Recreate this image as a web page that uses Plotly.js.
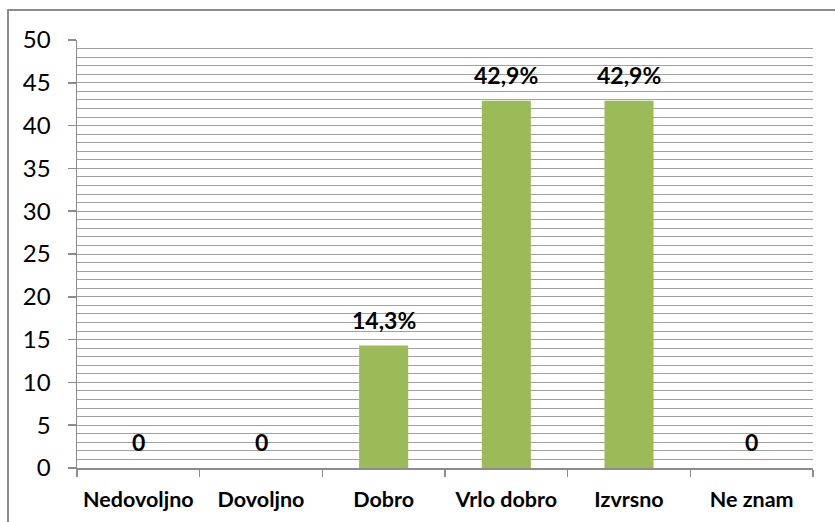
<!DOCTYPE html>
<html>
<head>
<meta charset="utf-8">
<script src="https://cdn.plot.ly/plotly-3.0.1.min.js"></script>
<style>
html,body{margin:0;padding:0;background:#fff;}
#wrap{position:relative;width:835px;height:522px;}
#chart{width:835px;height:522px;}
#frame{position:absolute;left:7px;top:9px;width:840px;height:520px;border-top:2px solid #8c8c8c;border-left:2px solid #8c8c8c;pointer-events:none;}
</style>
</head>
<body>
<div id="wrap"><div id="chart"></div><div id="frame"></div></div>
<script>
const categories = ["Nedovoljno", "Dovoljno", "Dobro", "Vrlo dobro", "Izvrsno", "Ne znam"];
const values = [0, 0, 14.3, 42.9, 42.9, 0];
const labels = ["0", "0", "14,3%", "42,9%", "42,9%", "0"];

const FONT = "Lato, 'Open Sans', sans-serif";

const trace = {
  type: "bar",
  x: categories,
  y: values,
  marker: {color: "#9BBB59"},
  hoverinfo: "skip"
};

const annotations = categories.map((c, i) => ({
  x: c, y: values[i], xref: "x", yref: "y",
  text: "<b>" + labels[i] + "</b>",
  showarrow: false, yanchor: "bottom", yshift: 10,
  font: {family: FONT, size: 23, color: "#000"}
}));

const layout = {
  width: 835, height: 522,
  margin: {l: 77, r: 22, t: 40, b: 54},
  paper_bgcolor: "#fff", plot_bgcolor: "#fff",
  bargap: 0.6,
  showlegend: false,
  font: {family: FONT, color: "#000"},
  xaxis: {
    type: "category",
    showline: true, linecolor: "#8c8c8c", linewidth: 1.5,
    ticks: "outside", tickson: "boundaries", ticklen: 7, tickcolor: "#8c8c8c", tickwidth: 1.5,
    tickfont: {family: FONT, size: 21.5, color: "#000", weight: "bold"},
    showgrid: false, zeroline: false,
    ticklabelstandoff: 12
  },
  yaxis: {
    range: [0, 50], dtick: 5, tick0: 0,
    showline: true, linecolor: "#8c8c8c", linewidth: 1.5,
    ticks: "outside", ticklen: 8, tickcolor: "#8c8c8c", tickwidth: 1.5,
    tickfont: {family: FONT, size: 24, color: "#000"},
    showgrid: true, gridcolor: "#a0a0a0", gridwidth: 1,
    minor: {dtick: 1, showgrid: true, gridcolor: "#a0a0a0", gridwidth: 1, ticks: ""},
    zeroline: false,
    ticklabelstandoff: 12
  },
  annotations: annotations
};

Plotly.newPlot("chart", [trace], layout, {staticPlot: true, displayModeBar: false});
</script>
</body>
</html>
